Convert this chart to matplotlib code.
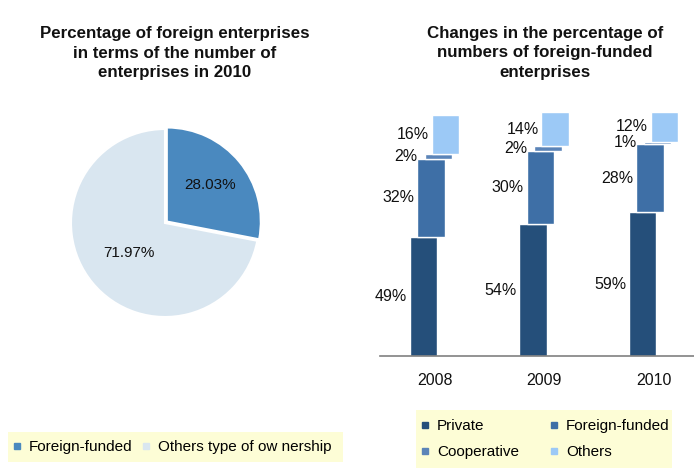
import matplotlib
matplotlib.use('Agg')
import matplotlib.pyplot as plt
from matplotlib.lines import Line2D
from matplotlib.patches import Rectangle

plt.rcParams['font.family'] = ['Liberation Sans', 'DejaVu Sans']

# 饼图数据
pie_labels = ['Foreign-funded', 'Others type of ow nership']
pie_values = [28.03, 71.97]
pie_colors = ['#4a89bf', '#d9e6f0']

# 堆叠柱数据
years = ['2008', '2009', '2010']
series_names = ['Private', 'Foreign-funded', 'Cooperative', 'Others']
private = [49, 54, 59]
foreign = [32, 30, 28]
cooperative = [2, 2, 1]
others = [16, 14, 12]
bar_colors = ['#254f7a', '#3e6fa6', '#5b84b8', '#9cc9f6']

W, H = 694, 474
fig = plt.figure(figsize=(W / 100, H / 100), dpi=100)
fig.patch.set_facecolor('white')


def px_box(x0, y0, x1, y1):
    # 像素坐标 -> figure 坐标
    return [x0 / W, 1 - y1 / H, (x1 - x0) / W, (y1 - y0) / H]


# 标题
title_kw = dict(ha='center', va='center', fontsize=12.2, fontweight='bold', color='#111111', linespacing=1.4)
fig.text(175 / W, 1 - 53 / H, 'Percentage of foreign enterprises\nin terms of the number of\nenterprises in 2010', **title_kw)
fig.text(545 / W, 1 - 53 / H, 'Changes in the percentage of\nnumbers of foreign-funded\nenterprises', **title_kw)

# 饼图
cx, cy, r = 165, 223, 94
half = 100
ax1 = fig.add_axes(px_box(cx - half, cy - half, cx + half, cy + half))
wedges, texts, autotexts = ax1.pie(
    pie_values, colors=pie_colors, startangle=90, counterclock=False,
    explode=[0.025, 0], autopct='%.2f%%', pctdistance=0.55,
    wedgeprops=dict(edgecolor='white', linewidth=1.5),
    textprops=dict(fontsize=11, color='#111111'))
ax1.set_xlim(-half / r, half / r)
ax1.set_ylim(-half / r, half / r)
ax1.set_aspect('equal')
ax1.axis('off')
# 微调百分比标签距离
for t, k in zip(autotexts, [0.6 / 0.55, 0.5 / 0.55]):
    x, y = t.get_position()
    t.set_position((x * k, y * k))

# 分段堆叠柱
ax2 = fig.add_axes(px_box(380, 105, 694, 356))
ax2.set_xlim(-0.5, 2.37)
ax2.set_ylim(0, 103)
width = 0.25
offsets = [-0.1, -0.033, 0.034, 0.1]
label_pad = [2, 2, 5, 2]
bottom = [0, 0, 0]
for i, vals in enumerate([private, foreign, cooperative, others]):
    xs = [j + offsets[i] for j in range(len(years))]
    bars = ax2.bar(xs, vals, width=width, bottom=bottom, color=bar_colors[i],
                   edgecolor='white', linewidth=1.0)
    for b, v in zip(bars, vals):
        ax2.annotate(f'{v}%', (b.get_x(), b.get_y() + b.get_height() / 2),
                     xytext=(-label_pad[i], 0), textcoords='offset points',
                     ha='right', va='center', fontsize=11.5, color='#111111')
    bottom = [b + v for b, v in zip(bottom, vals)]

ax2.set_xticks(range(len(years)))
ax2.set_xticklabels(years, fontsize=11.5, color='#111111')
ax2.tick_params(axis='x', length=0, pad=12)
ax2.set_yticks([])
for s in ['top', 'right', 'left']:
    ax2.spines[s].set_visible(False)
ax2.spines['bottom'].set_color('#808080')
ax2.spines['bottom'].set_linewidth(1.2)

# 图例背景
legend_bg = '#fdfdd6'
fig.patches.append(Rectangle((8 / W, 1 - 462 / H), 335 / W, 30 / H, transform=fig.transFigure,
                             facecolor=legend_bg, edgecolor='none', zorder=0))
fig.patches.append(Rectangle((416 / W, 1 - 468 / H), 256 / W, 58 / H, transform=fig.transFigure,
                             facecolor=legend_bg, edgecolor='none', zorder=0))

h1 = [Line2D([], [], marker='s', linestyle='none', markersize=4, color=c) for c in pie_colors]
fig.legend(h1, pie_labels, loc='center left', bbox_to_anchor=(12 / W, 1 - 447 / H), ncol=2,
           frameon=False, fontsize=11, handlelength=0.6, handletextpad=0.5,
           columnspacing=0.6, borderpad=0, borderaxespad=0)

# 图例按行排列：Private, Foreign-funded / Cooperative, Others
order = [0, 2, 1, 3]
h2 = [Line2D([], [], marker='s', linestyle='none', markersize=5, color=bar_colors[k]) for k in order]
fig.legend(h2, [series_names[k] for k in order], loc='center left', bbox_to_anchor=(420 / W, 1 - 439 / H),
           ncol=2, frameon=False, fontsize=11, handlelength=0.6, handletextpad=0.5,
           columnspacing=2.0, labelspacing=0.8, borderpad=0, borderaxespad=0)

fig.savefig('out.png', dpi=100, facecolor='white')
